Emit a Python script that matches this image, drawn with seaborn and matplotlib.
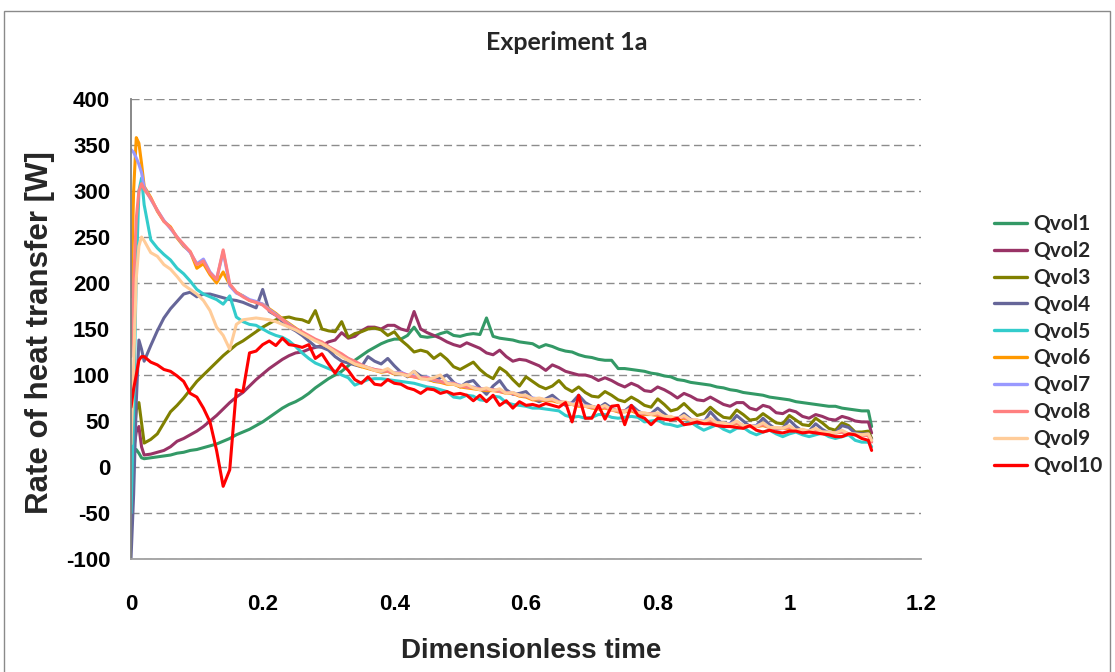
import matplotlib
matplotlib.use("Agg")
import matplotlib.pyplot as plt
import pandas as pd
import seaborn as sns
from matplotlib.patches import Rectangle

# Sampling instants (dimensionless time): a few early points, then steps of 0.01
time = [0, 0.004, 0.008, 0.012, 0.016] + [round(0.02 + 0.01 * i, 2) for i in range(111)] + [1.125]

qvol1 = [0, 14, 19, 15, 10,
         9, 10, 11, 12, 13, 15, 16, 18, 19, 21,
         23, 25, 28, 31, 35, 38, 41, 45, 49, 54,
         59, 64, 68, 71, 75, 80, 86, 91, 96, 100,
         104, 110, 116, 121, 126, 130, 134, 137, 139, 139,
         143, 152, 142, 141, 142, 145, 147, 143, 142, 144,
         145, 144, 162, 142, 140, 139, 138, 136, 135, 134,
         130, 133, 131, 128, 126, 125, 122, 120, 119, 117,
         116, 116, 107, 107, 106, 105, 104, 102, 101, 99,
         98, 95, 94, 92, 91, 90, 89, 87, 86, 84,
         83, 81, 80, 79, 78, 76, 75, 74, 73, 71,
         70, 69, 68, 67, 66, 66, 64, 63, 62, 61,
         61, 44]

qvol2 = [0, 20, 38, 44, 22,
         13, 14, 16, 18, 22, 28, 31, 35, 39, 44,
         50, 56, 63, 70, 76, 81, 88, 95, 101, 107,
         112, 117, 121, 124, 125, 128, 130, 132, 136, 138,
         146, 140, 142, 148, 152, 152, 150, 154, 154, 150,
         148, 169, 150, 146, 143, 140, 136, 133, 131, 135,
         132, 129, 124, 122, 127, 120, 115, 117, 116, 113,
         110, 105, 111, 108, 104, 102, 100, 100, 98, 94,
         97, 94, 90, 87, 91, 88, 83, 82, 87, 84,
         80, 75, 80, 77, 73, 72, 76, 72, 68, 66,
         70, 70, 64, 62, 67, 65, 59, 58, 62, 60,
         55, 53, 57, 55, 52, 51, 55, 53, 50, 49,
         49, 37]

qvol3 = [0, 30, 62, 70, 48,
         26, 30, 36, 48, 60, 67, 75, 84, 93, 100,
         107, 114, 121, 127, 133, 137, 142, 147, 152, 156,
         160, 162, 163, 161, 160, 157, 170, 150, 148, 147,
         158, 141, 145, 147, 150, 151, 149, 143, 147, 138,
         132, 125, 127, 125, 118, 123, 117, 109, 106, 110,
         114, 106, 100, 96, 108, 103, 95, 88, 98, 93,
         88, 85, 88, 94, 86, 82, 87, 81, 77, 76,
         82, 78, 73, 71, 76, 72, 67, 65, 74, 68,
         61, 63, 69, 62, 56, 58, 65, 59, 54, 53,
         62, 57, 51, 52, 58, 53, 48, 47, 56, 51,
         46, 45, 53, 48, 42, 40, 48, 45, 38, 38,
         39, 31]

qvol4 = [-100, -30, 70, 138, 128,
         115, 132, 148, 162, 172, 180, 188, 190, 185, 188,
         188, 186, 184, 182, 181, 179, 176, 173, 193, 169,
         165, 158, 152, 148, 143, 137, 131, 130, 127, 120,
         115, 113, 111, 109, 120, 115, 112, 118, 110, 103,
         98, 104, 99, 95, 94, 97, 100, 92, 87, 92,
         94, 86, 79, 88, 94, 84, 79, 80, 82, 74,
         71, 74, 78, 72, 67, 70, 78, 70, 66, 64,
         69, 64, 60, 61, 67, 61, 57, 58, 64, 58,
         52, 52, 58, 52, 47, 48, 60, 52, 46, 47,
         56, 50, 44, 45, 53, 46, 41, 42, 51, 44,
         39, 39, 47, 41, 37, 37, 45, 43, 37, 36,
         36, 30]

qvol5 = [-50, 60, 210, 300, 314,
         285, 247, 238, 231, 225, 216, 210, 202, 193, 188,
         185, 182, 177, 186, 163, 158, 155, 154, 150, 146,
         143, 141, 137, 131, 124, 118, 113, 110, 107, 104,
         100, 97, 89, 92, 95, 96, 96, 95, 94, 93,
         92, 91, 89, 87, 86, 84, 82, 76, 75, 78,
         77, 73, 72, 77, 76, 70, 68, 67, 66, 64,
         64, 63, 62, 61, 56, 54, 55, 53, 54, 57,
         57, 54, 53, 54, 55, 54, 49, 50, 51, 47,
         46, 44, 46, 49, 44, 40, 43, 46, 41, 38,
         42, 43, 38, 35, 38, 40, 36, 33, 36, 38,
         35, 33, 35, 37, 33, 31, 33, 35, 29, 27,
         27, 22]

qvol6 = [185, 300, 358, 352, 330,
         305, 293, 278, 267, 261, 249, 240, 234, 216, 221,
         209, 200, 212, 198, 190, 186, 181, 179, 177, 172,
         167, 161, 156, 151, 146, 141, 138, 134, 130, 125,
         121, 116, 112, 109, 107, 105, 103, 104, 101, 102,
         99, 98, 96, 96, 93, 92, 90, 90, 87, 86,
         85, 84, 83, 83, 82, 80, 80, 77, 76, 73,
         73, 72, 72, 70, 69, 68, 66, 66, 64, 63,
         64, 62, 60, 60, 61, 58, 57, 57, 56, 54,
         54, 52, 53, 51, 50, 49, 50, 48, 47, 46,
         47, 45, 44, 44, 45, 43, 42, 42, 42, 40,
         40, 39, 40, 38, 37, 37, 38, 36, 35, 35,
         35, 28]

qvol7 = [345, 342, 336, 329, 320,
         304, 291, 279, 268, 259, 250, 241, 233, 221, 226,
         212, 204, 234, 197, 189, 186, 182, 180, 177, 171,
         166, 160, 155, 150, 146, 142, 138, 135, 131, 126,
         122, 118, 114, 111, 108, 106, 104, 105, 102, 103,
         100, 99, 97, 98, 94, 93, 92, 91, 89, 87,
         87, 85, 85, 84, 83, 81, 81, 78, 77, 75,
         74, 73, 74, 71, 70, 69, 68, 67, 65, 64,
         66, 63, 61, 61, 63, 59, 58, 58, 58, 55,
         54, 53, 55, 51, 50, 50, 52, 48, 47, 47,
         49, 45, 44, 45, 47, 43, 42, 42, 44, 40,
         40, 39, 41, 38, 38, 37, 39, 36, 35, 35,
         35, 28]

qvol8 = [120, 200, 270, 300, 308,
         302, 292, 279, 267, 260, 250, 242, 234, 220, 224,
         211, 204, 236, 199, 190, 185, 181, 179, 176, 170,
         165, 160, 154, 150, 147, 143, 139, 136, 131, 127,
         123, 118, 115, 111, 108, 106, 105, 104, 102, 102,
         100, 98, 97, 97, 95, 93, 91, 91, 88, 87,
         86, 85, 84, 84, 82, 81, 80, 78, 77, 74,
         74, 73, 73, 71, 70, 68, 67, 66, 65, 64,
         65, 62, 61, 61, 62, 59, 58, 58, 57, 55,
         54, 53, 54, 51, 51, 49, 51, 48, 47, 46,
         48, 45, 44, 44, 46, 43, 42, 42, 43, 40,
         40, 39, 40, 38, 37, 37, 38, 36, 35, 35,
         34, 27]

qvol9 = [25, 110, 205, 240, 250,
         246, 233, 229, 220, 215, 207, 198, 193, 188, 181,
         170, 152, 143, 128, 155, 160, 161, 162, 161, 160,
         158, 155, 152, 149, 145, 141, 137, 134, 130, 125,
         120, 116, 112, 110, 108, 105, 104, 107, 102, 101,
         99, 104, 96, 95, 97, 100, 91, 90, 88, 90,
         86, 84, 86, 83, 85, 80, 81, 78, 78, 74,
         75, 73, 74, 70, 71, 68, 69, 66, 66, 64,
         67, 62, 62, 60, 64, 59, 59, 57, 59, 55,
         55, 52, 56, 51, 51, 49, 53, 48, 48, 46,
         50, 45, 45, 44, 48, 43, 43, 42, 45, 40,
         41, 39, 42, 38, 38, 37, 40, 36, 36, 35,
         36, 29]

qvol10 = [65, 85, 100, 116, 120,
          120, 114, 111, 106, 104, 99, 93, 80, 76, 64,
          49, 18, -21, -3, 84, 82, 124, 126, 133, 137,
          132, 140, 133, 132, 130, 133, 118, 123, 112, 102,
          112, 105, 95, 91, 98, 90, 89, 95, 91, 90,
          86, 84, 80, 85, 84, 80, 82, 79, 80, 78,
          72, 78, 71, 78, 67, 72, 64, 71, 67, 68,
          66, 69, 67, 65, 70, 49, 78, 53, 53, 67,
          52, 66, 67, 46, 67, 56, 53, 46, 53, 52,
          51, 53, 46, 47, 49, 47, 47, 45, 44, 44,
          43, 42, 45, 40, 38, 40, 38, 37, 39, 39,
          37, 38, 37, 36, 35, 33, 33, 36, 35, 31,
          29, 18]

series_names = ["Qvol1", "Qvol2", "Qvol3", "Qvol4", "Qvol5",
                "Qvol6", "Qvol7", "Qvol8", "Qvol9", "Qvol10"]
series_values = [qvol1, qvol2, qvol3, qvol4, qvol5,
                 qvol6, qvol7, qvol8, qvol9, qvol10]
series_colors = ["#339966", "#993366", "#808000", "#666699", "#33CCCC",
                 "#FF9900", "#9999FF", "#FF8080", "#FFCC99", "#FF0000"]

y_ticks = [-100, -50, 0, 50, 100, 150, 200, 250, 300, 350, 400]
x_ticks = [0, 0.2, 0.4, 0.6, 0.8, 1.0, 1.2]
x_tick_labels = ["0", "0.2", "0.4", "0.6", "0.8", "1", "1.2"]

title_text = "Experiment 1a"
x_label = "Dimensionless time"
y_label = "Rate of heat transfer [W]"

# Long-format table for seaborn
df = pd.concat(
    [pd.DataFrame({"time": time, "Q": vals, "series": name})
     for name, vals in zip(series_names, series_values)],
    ignore_index=True,
)

sns.set_theme(style="white")
plt.rcParams["font.family"] = ["Liberation Sans", "DejaVu Sans"]
plt.rcParams["axes.unicode_minus"] = False

fig = plt.figure(figsize=(11.15, 6.72), dpi=100)
ax = fig.add_axes([131 / 1115, 1 - 559 / 672, 790 / 1115, 460 / 672])

sns.lineplot(data=df, x="time", y="Q", hue="series", hue_order=series_names,
             palette=series_colors, estimator=None, sort=False,
             linewidth=2.2, ax=ax, legend=True)

ax.set_xlim(0, 1.2)
ax.set_ylim(-100, 400)
ax.set_xticks(x_ticks)
ax.set_xticklabels(x_tick_labels)
ax.set_yticks(y_ticks)
ax.set_xlabel("")
ax.set_ylabel("")

# Dashed horizontal gridlines behind the data
ax.set_axisbelow(True)
ax.yaxis.grid(True, color="#8c8c8c", linewidth=1.0, linestyle=(0, (5.8, 3.2)))
ax.xaxis.grid(False)

for side in ["top", "right"]:
    ax.spines[side].set_visible(False)
ax.spines["left"].set_color("#7f7f7f")
ax.spines["left"].set_linewidth(1.3)
ax.spines["bottom"].set_color("#a0a0a0")
ax.spines["bottom"].set_linewidth(1.3)

ax.tick_params(axis="both", which="major", direction="out", length=4,
               width=1.0, color="#7f7f7f", labelsize=16)
ax.tick_params(axis="y", pad=11)
ax.tick_params(axis="x", pad=21)
for lab in ax.get_xticklabels() + ax.get_yticklabels():
    lab.set_fontweight("bold")
    lab.set_color("black")

# Legend to the right of the plot
handles, labels = ax.get_legend_handles_labels()
ax.get_legend().remove()
leg = fig.legend(handles, labels, loc="center left",
                 bbox_to_anchor=(994 / 1115, 1 - 345 / 672),
                 frameon=False, borderpad=0, borderaxespad=0,
                 handlelength=1.6, handletextpad=0.3, labelspacing=0.33,
                 prop={"family": "Lato", "weight": "bold", "size": 15})
for line in leg.get_lines():
    line.set_linewidth(2.4)

fig.text(567 / 1115, 1 - 43 / 672, title_text, ha="center", va="center",
         fontsize=18, fontweight="bold", family="Lato")
fig.text(531 / 1115, 1 - 651 / 672, x_label, ha="center", va="center",
         fontsize=20, fontweight="bold")
fig.text(40 / 1115, 1 - 333 / 672, y_label, ha="center", va="center",
         rotation=90, fontsize=22.5, fontweight="bold")

# Thin outer chart frame
fig.patches.append(Rectangle((4 / 1115, -0.02), 1106 / 1115, 1.02 - 11 / 672,
                             transform=fig.transFigure, fill=False,
                             edgecolor="#8a8a8a", linewidth=1.0))

fig.savefig("out.png", dpi=100)
